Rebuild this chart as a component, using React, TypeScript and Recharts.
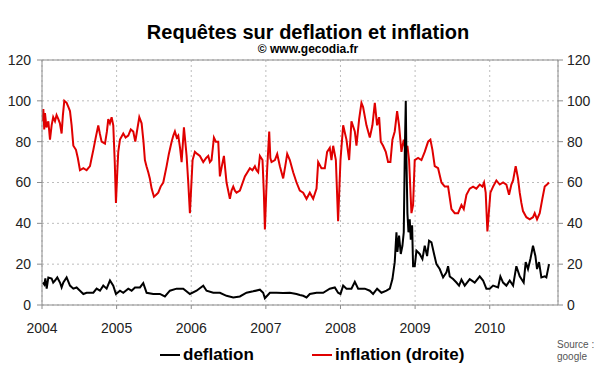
import { LineChart, Line, XAxis, YAxis, CartesianGrid, ReferenceLine, Legend } from 'recharts';

// weekly Google search index, x = fractional year
const inflationDates = [
  2004.009, 2004.018, 2004.03, 2004.04, 2004.06, 2004.085, 2004.107, 2004.129, 2004.15, 2004.174,
  2004.195, 2004.219, 2004.24, 2004.263, 2004.28, 2004.299, 2004.33, 2004.353, 2004.375, 2004.397,
  2004.42, 2004.455, 2004.48, 2004.509, 2004.554, 2004.598, 2004.643, 2004.665, 2004.688, 2004.72,
  2004.754, 2004.775, 2004.799, 2004.844, 2004.87, 2004.888, 2004.91, 2004.933, 2004.955, 2004.975,
  2004.991, 2005.01, 2005.022, 2005.045, 2005.089, 2005.12, 2005.156, 2005.19, 2005.223, 2005.25,
  2005.268, 2005.304, 2005.335, 2005.36, 2005.379, 2005.4, 2005.424, 2005.445, 2005.469, 2005.5,
  2005.53, 2005.558, 2005.59, 2005.625, 2005.67, 2005.7, 2005.737, 2005.76, 2005.781, 2005.805,
  2005.826, 2005.85, 2005.871, 2005.902, 2005.92, 2005.938, 2005.96, 2005.982, 2006.0, 2006.018,
  2006.049, 2006.08, 2006.116, 2006.161, 2006.2, 2006.228, 2006.25, 2006.272, 2006.304, 2006.33,
  2006.362, 2006.384, 2006.41, 2006.438, 2006.473, 2006.518, 2006.54, 2006.563, 2006.585, 2006.607,
  2006.652, 2006.719, 2006.786, 2006.82, 2006.853, 2006.875, 2006.897, 2006.92, 2006.955, 2006.973,
  2006.987, 2007.005, 2007.018, 2007.045, 2007.06, 2007.076, 2007.121, 2007.152, 2007.188, 2007.232,
  2007.26, 2007.286, 2007.321, 2007.366, 2007.411, 2007.455, 2007.5, 2007.545, 2007.589, 2007.634,
  2007.679, 2007.701, 2007.745, 2007.79, 2007.821, 2007.857, 2007.879, 2007.902, 2007.938, 2007.968,
  2008.0, 2008.036, 2008.08, 2008.116, 2008.147, 2008.192, 2008.214, 2008.25, 2008.281, 2008.303,
  2008.348, 2008.393, 2008.428, 2008.46, 2008.491, 2008.518, 2008.54, 2008.571, 2008.607, 2008.638,
  2008.669, 2008.696, 2008.727, 2008.759, 2008.785, 2008.817, 2008.848, 2008.875, 2008.897, 2008.919,
  2008.951, 2008.973, 2008.995, 2009.04, 2009.085, 2009.129, 2009.174, 2009.205, 2009.232, 2009.263,
  2009.308, 2009.353, 2009.397, 2009.442, 2009.487, 2009.531, 2009.576, 2009.621, 2009.652, 2009.688,
  2009.732, 2009.777, 2009.821, 2009.866, 2009.902, 2009.924, 2009.946, 2009.969, 2010.009, 2010.045,
  2010.089, 2010.134, 2010.179, 2010.223, 2010.259, 2010.29, 2010.313, 2010.348, 2010.379, 2010.402,
  2010.424, 2010.446, 2010.491, 2010.536, 2010.58, 2010.603, 2010.634, 2010.67, 2010.705, 2010.737,
  2010.768, 2010.795,
];
const inflationValues = [
  90, 96, 86, 94, 87, 90, 81, 88, 92, 90,
  93, 91, 89, 84, 93, 100, 99, 97, 95, 88,
  78, 76, 72, 66, 67, 66, 68, 72, 76, 82,
  88, 84, 80, 79, 85, 91, 89, 92, 88, 70,
  50, 66, 75, 81, 84, 82, 83, 86, 85, 80,
  84, 92, 89, 80, 71, 68, 65, 62, 57, 53,
  54, 55, 58, 60, 68, 74, 80, 83, 85, 82,
  83, 77, 70, 87, 80, 73, 60, 45, 58, 71,
  75, 74, 73, 70, 72, 73, 70, 71, 82, 80,
  80, 63, 68, 73, 60, 52, 56, 58, 56, 55,
  56, 63, 67, 66, 68, 66, 65, 73, 71, 55,
  37, 55, 67, 85, 72, 70, 71, 74, 68, 62,
  68, 74, 71, 65, 60, 56, 55, 52, 55, 52,
  57, 70, 67, 67, 75, 77, 71, 78, 71, 41,
  71, 88, 81, 71, 90, 85, 78, 91, 99, 97,
  88, 82, 88, 99, 88, 92, 80, 78, 75, 70,
  70, 81, 85, 95, 88, 75, 81, 75, 78, 71,
  45, 49, 71, 72, 71, 75, 80, 81, 76, 68,
  67, 60, 58, 58, 47, 45, 45, 49, 47, 54,
  57, 58, 57, 59, 58, 60, 55, 36, 55, 58,
  61, 59, 60, 59, 54, 59, 61, 68, 62, 55,
  50, 46, 43, 42, 43, 45, 42, 45, 52, 58,
  59, 60,
];

const deflationDates = [
  2004.009, 2004.031, 2004.045, 2004.063, 2004.085, 2004.129, 2004.15, 2004.174, 2004.205, 2004.241,
  2004.263, 2004.286, 2004.33, 2004.375, 2004.42, 2004.464, 2004.509, 2004.554, 2004.598, 2004.643,
  2004.688, 2004.732, 2004.777, 2004.821, 2004.866, 2004.911, 2004.955, 2004.991, 2005.045, 2005.089,
  2005.156, 2005.201, 2005.246, 2005.313, 2005.357, 2005.402, 2005.491, 2005.58, 2005.647, 2005.714,
  2005.804, 2005.893, 2005.982, 2006.071, 2006.161, 2006.205, 2006.295, 2006.384, 2006.473, 2006.563,
  2006.652, 2006.741, 2006.83, 2006.92, 2006.964, 2006.987, 2007.054, 2007.143, 2007.232, 2007.321,
  2007.411, 2007.455, 2007.5, 2007.545, 2007.589, 2007.679, 2007.768, 2007.857, 2007.924, 2007.968,
  2008.0, 2008.036, 2008.08, 2008.147, 2008.192, 2008.237, 2008.326, 2008.393, 2008.437, 2008.491,
  2008.549, 2008.616, 2008.661, 2008.696, 2008.727, 2008.75, 2008.763, 2008.785, 2008.808, 2008.83,
  2008.848, 2008.862, 2008.875, 2008.884, 2008.897, 2008.911, 2008.928, 2008.942, 2008.96, 2008.973,
  2008.995, 2009.018, 2009.062, 2009.098, 2009.129, 2009.161, 2009.187, 2009.219, 2009.254, 2009.286,
  2009.33, 2009.375, 2009.42, 2009.442, 2009.464, 2009.509, 2009.554, 2009.589, 2009.621, 2009.665,
  2009.732, 2009.799, 2009.866, 2009.911, 2009.955, 2010.0, 2010.045, 2010.112, 2010.143, 2010.179,
  2010.223, 2010.268, 2010.313, 2010.357, 2010.402, 2010.455, 2010.482, 2010.513, 2010.545, 2010.58,
  2010.612, 2010.634, 2010.661, 2010.692, 2010.737, 2010.759, 2010.795,
];
const deflationValues = [
  11, 10, 13, 8, 13.5, 13, 11, 12, 13.5, 11,
  8.6, 11, 13.5, 9.5, 8, 8.6, 7, 5.4, 6, 6,
  6, 8, 7, 9.5, 8, 12, 9.5, 5.4, 7, 6,
  8, 7, 8.6, 8.6, 10.7, 6, 5.4, 5.4, 4.2, 7,
  8, 8, 5.4, 7, 9.5, 7, 6, 6, 4.5, 3.7,
  4.2, 6, 6.7, 7.5, 6, 3.3, 6, 6, 5.9, 6,
  5.4, 4.9, 4.5, 3.7, 5.4, 6, 6, 8, 8.6, 6,
  5.4, 9.5, 8, 8, 11.4, 8, 8, 7, 5.4, 8,
  6, 7, 8, 12.7, 21, 35.6, 26, 34, 25, 29,
  35.6, 75, 100, 71, 45, 35.6, 42, 32, 39, 19,
  19, 26.6, 25, 22.5, 29, 24, 31.5, 30.7, 25, 20,
  17.6, 13.5, 16, 19, 14, 12.7, 11, 9.5, 12.4, 9.5,
  12.7, 11, 14, 12, 8, 8, 9.5, 8.6, 14, 11,
  9.5, 12, 9.5, 19, 14, 11, 21, 17.6, 22.5, 29,
  24, 17.6, 21, 13.5, 14, 13.5, 20,
];

const yearTicks = [2004, 2005, 2006, 2007, 2008, 2009, 2010];
const valueTicks = [0, 20, 40, 60, 80, 100, 120];

const inflation = inflationDates.map((t, i) => ({ t, v: inflationValues[i] }));
const deflation = deflationDates.map((t, i) => ({ t, v: deflationValues[i] }));

const FONT = '"Liberation Sans", Arial, sans-serif';
const AXIS = '#8c8c8c';
const legendLeft = [160, 312];

function LegendContent({ payload }: any) {
  return (
    <div style={{ position: 'relative', width: 600, height: 24 }}>
      {(payload || []).map((p: any, i: number) => (
        <div
          key={p.value}
          style={{ position: 'absolute', left: legendLeft[i], top: 0, display: 'flex', alignItems: 'center', height: 24 }}
        >
          <span style={{ display: 'inline-block', width: 20, height: 2, background: p.color, marginRight: 3 }} />
          <span style={{ fontSize: 17, fontWeight: 'bold', color: '#000', fontFamily: FONT }}>{p.value}</span>
        </div>
      ))}
    </div>
  );
}

export default function App() {
  return (
    <div style={{ position: 'absolute', left: 0, top: 0, width: 600, height: 372, background: '#fff', fontFamily: FONT }}>
      <div style={{ position: 'absolute', left: 0, width: 616, top: 21.5, textAlign: 'center', fontSize: 20, lineHeight: '20px', fontWeight: 'bold', color: '#000' }}>
        Requêtes sur deflation et inflation
      </div>
      <div style={{ position: 'absolute', left: 0, width: 616, top: 43, textAlign: 'center', fontSize: 12, lineHeight: '12px', fontWeight: 'bold', color: '#000' }}>
        © www.gecodia.fr
      </div>
      <LineChart width={600} height={372} margin={{ top: 60, right: 0, bottom: 37, left: 0 }}>
        <CartesianGrid yAxisId="l" stroke="#bdbdbd" strokeDasharray="2 3" />
        <XAxis
          dataKey="t"
          type="number"
          domain={[2004, 2010.915]}
          allowDataOverflow
          ticks={yearTicks}
          tickFormatter={(v) => String(Math.round(v))}
          height={30}
          stroke={AXIS}
          tickSize={4}
          tickMargin={14}
          tick={{ fill: '#222', fontSize: 14 }}
        />
        <YAxis
          yAxisId="l"
          domain={[0, 120]}
          ticks={valueTicks}
          width={42}
          stroke={AXIS}
          tickSize={5}
          tickMargin={6}
          tick={{ fill: '#222', fontSize: 14 }}
        />
        <YAxis
          yAxisId="r"
          orientation="right"
          domain={[0, 120]}
          ticks={valueTicks}
          width={42}
          stroke={AXIS}
          tickSize={5}
          tickMargin={4}
          tick={{ fill: '#222', fontSize: 14, textAnchor: 'start' }}
        />
        <ReferenceLine yAxisId="l" y={120} stroke={AXIS} />
        <Line
          yAxisId="r"
          data={inflation}
          dataKey="v"
          name="inflation (droite)"
          stroke="#e00000"
          strokeWidth={2}
          dot={false}
          isAnimationActive={false}
          legendType="plainline"
        />
        <Line
          yAxisId="l"
          data={deflation}
          dataKey="v"
          name="deflation"
          stroke="#000"
          strokeWidth={2}
          dot={false}
          isAnimationActive={false}
          legendType="plainline"
        />
        <Legend
          layout="horizontal"
          verticalAlign="middle"
          align="center"
          content={(props: any) => <LegendContent payload={[...(props.payload || [])].sort((a: any) => (a.value === 'deflation' ? -1 : 1))} />}
          wrapperStyle={{ position: 'absolute', left: 0, top: 343, width: 600, height: 24 }}
        />
      </LineChart>
      <div style={{ position: 'absolute', left: 557, top: 338.5, fontSize: 10, lineHeight: '12px', color: '#555' }}>
        Source :<br />google
      </div>
    </div>
  );
}
